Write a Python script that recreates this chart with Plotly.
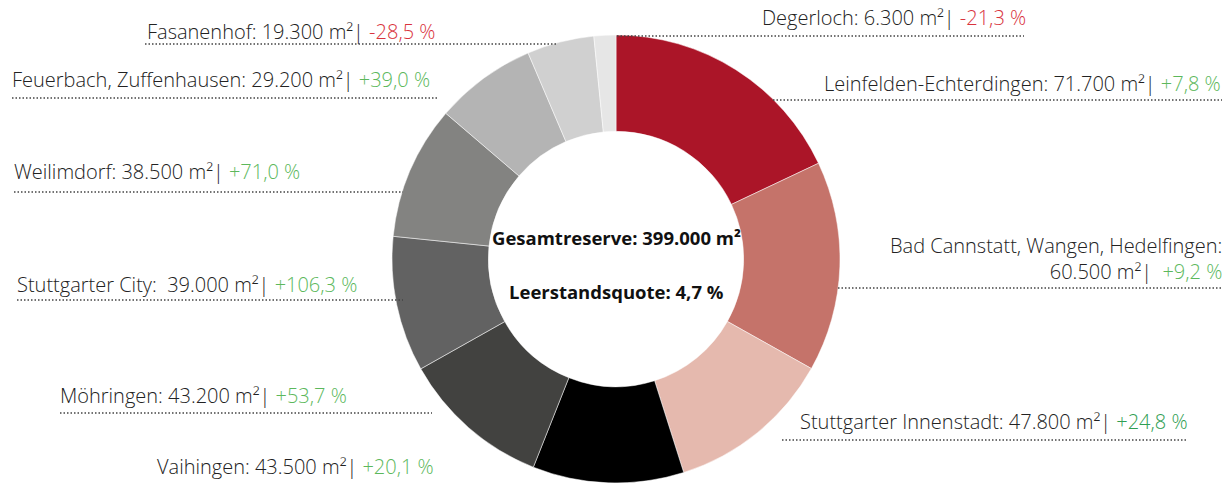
import plotly.graph_objects as go

# ---- data ----
districts = ["Leinfelden-Echterdingen", "Bad Cannstatt, Wangen, Hedelfingen", "Stuttgarter Innenstadt",
             "Vaihingen", "Möhringen", "Stuttgarter City", "Weilimdorf",
             "Feuerbach, Zuffenhausen", "Fasanenhof", "Degerloch"]
reserve_m2 = [71700, 60500, 47800, 43500, 43200, 39000, 38500, 29200, 19300, 6300]
change_pct = [7.8, 9.2, 24.8, 20.1, 53.7, 106.3, 71.0, 39.0, -28.5, -21.3]
total_reserve = 399000
vacancy_rate = 4.7

# ---- styles ----
slice_colors = ["#ab1528", "#c5736a", "#e5b9ae", "#000000", "#424240", "#626262",
                "#838381", "#b4b4b4", "#d0d0d0", "#e6e6e6"]
W, H = 1230, 483
FONT = "Open Sans"
TXT = "#222222"
RED = "#d9333d"
GREEN = "#5cb85c"

def de_int(v):
    return f"{v:,}".replace(",", ".")

def de_pct(v):
    s = f"{v:+.1f}".replace(".", ",")
    return s + " %"

# label layout: (anchor, x_px, y_center_px, dotted y, dotted x0, dotted x1)
label_layout = [
    ("right", 1222, 83, 100, 773, 1222),
    ("right", 1223, 258, 288, 838, 1222),
    ("left", 799, 421, 440, 782, 1188),
    ("left", 156, 466, None, None, None),
    ("left", 59, 395, 413, 60, 432),
    ("left", 16, 284, 300, 17, 403),
    ("left", 13, 172, 192, 14, 403),
    ("left", 11, 79, 98, 12, 437),
    ("left", 146, 31, 44, 145, 558),
    ("right", 1027, 17, 36, 617, 1024),
]

fig = go.Figure(go.Pie(
    labels=districts, values=reserve_m2, sort=False, direction="clockwise", rotation=0,
    hole=0.57, textinfo="none", hoverinfo="label+value",
    marker=dict(colors=slice_colors, line=dict(color="white", width=0.5)),
    domain=dict(x=[(616 - 224) / W, (616 + 224) / W], y=[0, 448 / H]),
    showlegend=False,
))

def px(x):
    return x / W

def py(y):
    return 1 - y / H

annotations = []
shapes = []
for name, val, ch, lay in zip(districts, reserve_m2, change_pct, label_layout):
    anchor, x, yc, dy, dx0, dx1 = lay
    col = RED if ch < 0 else GREEN
    if name == "Stuttgarter Innenstadt":
        col = "#2f9e52"
    sep = "|&nbsp;&nbsp;" if name.startswith("Bad") else "| "
    nm = name + ":&nbsp;&nbsp;" if name == "Stuttgarter City" else name + ": "
    val_txt = f"{de_int(val)} m²{sep}<span style='color:{col}'>{de_pct(ch)}</span>"
    if name.startswith("Bad"):
        text = f"{name}:<br>{val_txt}"
    else:
        text = nm + val_txt
    annotations.append(dict(
        x=px(x), y=py(yc), xref="paper", yref="paper", text=text, showarrow=False,
        xanchor=anchor, yanchor="middle", align=anchor,
        font=dict(family=FONT, size=20, color=TXT, weight=300), borderpad=0,
    ))
    if dy is not None:
        shapes.append(dict(type="line", xref="paper", yref="paper",
                           x0=px(dx0), x1=px(dx1), y0=py(dy), y1=py(dy),
                           line=dict(color="#444444", width=1.5, dash="1.5px,2px")))

annotations.append(dict(x=px(616), y=py(238), xref="paper", yref="paper", showarrow=False,
                        text=f"<b>Gesamtreserve: {de_int(total_reserve)} m²</b>",
                        font=dict(family=FONT, size=18.5, color="#111111")))
annotations.append(dict(x=px(616), y=py(291), xref="paper", yref="paper", showarrow=False,
                        text=f"<b>Leerstandsquote: {str(vacancy_rate).replace('.', ',')} %</b>",
                        font=dict(family=FONT, size=18.5, color="#111111")))

fig.update_layout(
    width=W, height=H, margin=dict(l=0, r=0, t=0, b=0),
    paper_bgcolor="white", plot_bgcolor="white",
    annotations=annotations, shapes=shapes,
)
fig.write_html("out.html", config={"displayModeBar": False},
               post_script="document.body.style.margin='0';")
